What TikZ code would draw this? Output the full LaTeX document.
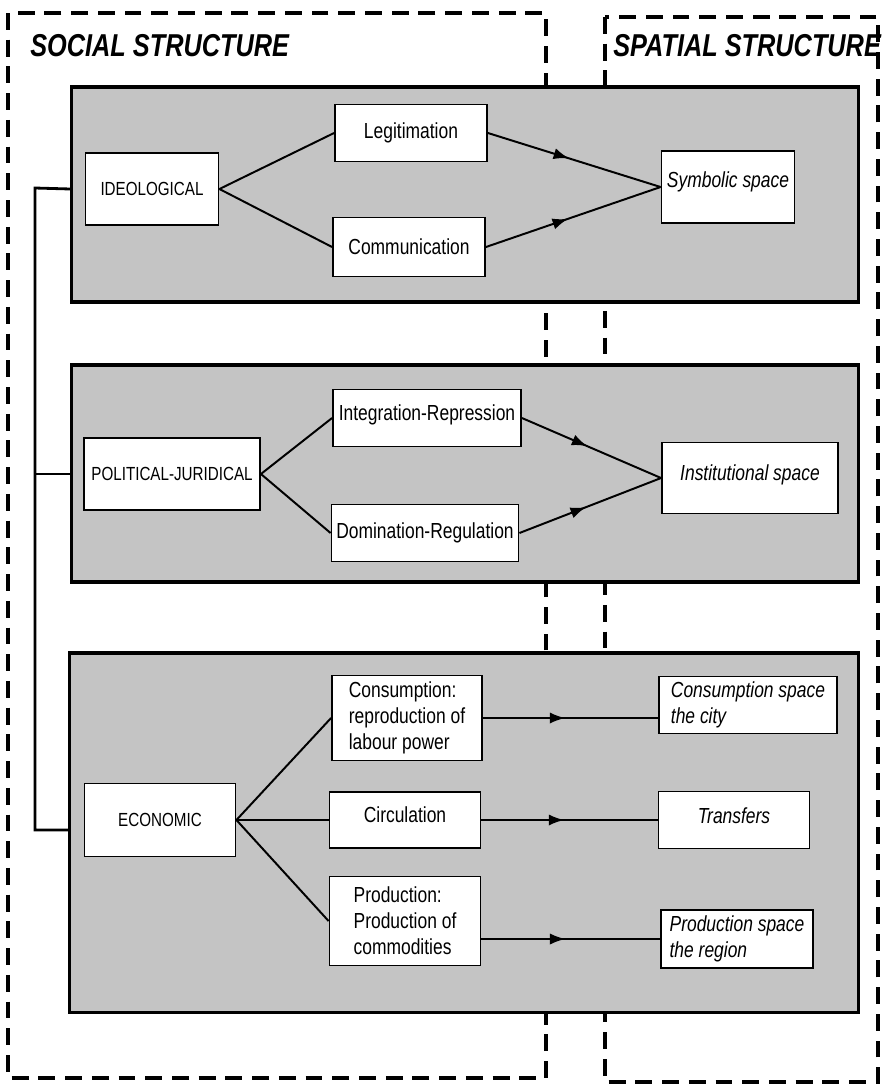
\documentclass[tikz,border=0pt]{standalone}
\usepackage{fontspec}
\setmainfont{Liberation Sans}[FakeStretch=0.8]
\usetikzlibrary{arrows.meta,decorations.markings}
\tikzset{
  boite/.style={draw, fill=white, line width=1.3pt, inner sep=0pt, align=center, font=\fontsize{15.5}{18.5}\selectfont},
  majus/.style={boite, font=\fontsize{13.5}{16}\selectfont},
  espace/.style={boite, font=\fontsize{15.5}{18.5}\selectfont\itshape},
  bande/.style={draw, line width=2.2pt, fill=black!23, inner sep=0pt},
  cadre/.style={line width=2.4pt, dash pattern=on 12pt off 7pt},
  titre/.style={anchor=west, inner sep=0pt, font=\fontsize{22.5}{24}\selectfont\bfseries\itshape},
  lien/.style={line width=1.4pt},
  fleche/.style={lien, decoration={markings, mark=at position 0.47 with {\arrow{Latex[length=11pt,width=8pt]}}}, postaction={decorate}},
}
\begin{document}
\begin{tikzpicture}[x=0.025cm, y=-0.025cm]
\useasboundingbox (0,0) rectangle (885,1088);
% cadres en tirets
\draw [cadre] (8,13) rectangle (546,1078);
\draw [cadre] (605,17) rectangle (878,1082);
\node (social) at (30,46) [titre] {SOCIAL STRUCTURE};
\node (spatial) at (613,46) [titre] {SPATIAL STRUCTURE};
% bandes grises
\node (bande1) at (465,194.5) [bande, minimum width=19.65cm, minimum height=5.375cm] {};
\node (bande2) at (465,473.5) [bande, minimum width=19.65cm, minimum height=5.425cm] {};
\node (bande3) at (464,832.5) [bande, minimum width=19.7cm, minimum height=8.975cm] {};
% ideologique
\node (ideo) at (152,189) [majus, minimum width=3.325cm, minimum height=1.8cm] {IDEOLOGICAL};
\node (legit) at (411,133) [boite, minimum width=3.8cm, minimum height=1.425cm] {Legitimation};
\node (comm) at (409,247) [boite, minimum width=3.8cm, minimum height=1.475cm] {Communication};
\node (symb) at (728,187) [espace, text depth=10pt, minimum width=3.325cm, minimum height=1.8cm] {Symbolic space};
\draw [lien] (ideo.east) -- (legit.west);
\draw [lien] (ideo.east) -- (comm.west);
\draw [fleche] (legit.east) -- (symb.west);
\draw [fleche] (comm.east) -- (symb.west);
% politique
\node (pol) at (172,474) [majus, minimum width=4.4cm, minimum height=1.8cm] {POLITICAL-JURIDICAL};
\node (integ) at (427,418) [boite, text depth=8pt, minimum width=4.7cm, minimum height=1.425cm] {Integration-Repression};
\node (domin) at (425,533) [boite, minimum width=4.675cm, minimum height=1.425cm] {Domination-Regulation};
\node (inst) at (750,478) [espace, text depth=8pt, minimum width=4.4cm, minimum height=1.775cm] {Institutional space};
\draw [lien] (pol.east) -- (integ.west);
\draw [lien] (pol.east) -- (domin.west);
\draw [fleche] (integ.east) -- (inst.west);
\draw [fleche] (domin.east) -- (inst.west);
% economique
\node (eco) at (160,820) [majus, minimum width=3.775cm, minimum height=1.825cm] {ECONOMIC};
\node (cons) at (407,718) [boite, align=left, minimum width=3.75cm, minimum height=2.125cm] {Consumption:\\reproduction of\\labour power};
\node (circ) at (405,820) [boite, text depth=7pt, minimum width=3.775cm, minimum height=1.4cm] {Circulation};
\node (prod) at (405,921) [boite, align=left, minimum width=3.775cm, minimum height=2.225cm] {Production:\\Production of\\commodities};
\node (conssp) at (748,705) [espace, align=left, minimum width=4.45cm, minimum height=1.425cm] {Consumption space\\the city};
\node (transf) at (734,820) [espace, text depth=6pt, minimum width=3.775cm, minimum height=1.425cm] {Transfers};
\node (prodsp) at (737,939) [espace, align=left, minimum width=3.8cm, minimum height=1.45cm] {Production space\\the region};
\draw [lien] (eco.east) -- (cons.west);
\draw [lien] (eco.east) -- (circ.west);
\draw [lien] (eco.east) -- (prod.west);
\draw [fleche] (cons.east) -- (cons.east -| conssp.west);
\draw [fleche] (circ.east) -- (transf.west);
\draw [fleche] (prodsp.west -| prod.east) -- (prodsp.west);
% ligne de gauche
\coordinate (bus) at (35,188);
\coordinate (busbas) at (35,830);
\draw [line width=2pt] (bande1.west |- ideo) -- (bus) -- (busbas) -- (bande3.west |- busbas);
\draw [line width=2pt] (bande2.west |- pol) -- (bus |- pol);
\end{tikzpicture}
\end{document}
